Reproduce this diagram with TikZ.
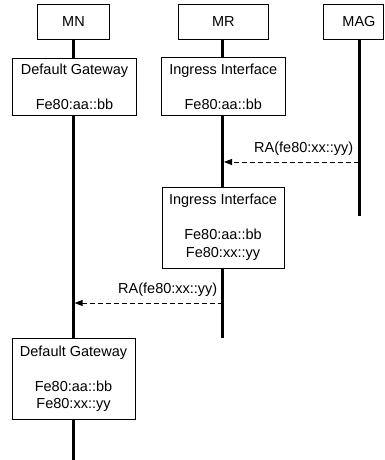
\documentclass[tikz,border=0pt]{standalone}
\usepackage{fontspec}
\setmainfont{Liberation Sans}
\usetikzlibrary{arrows.meta}
\begin{document}
\begin{tikzpicture}[x=1pt,y=1pt,
  box/.style={draw=black, line width=0.8pt, fill=white, inner sep=0pt, align=center,
    font=\fontsize{14.5}{17.5}\selectfont},
  lifeline/.style={line width=2.6pt},
  msg/.style={line width=0.8pt, dash pattern=on 5pt off 3pt, -{Triangle[length=8pt,width=6pt]}},
  lbl/.style={inner sep=0pt, font=\fontsize{14.5}{17.5}\selectfont}]
\useasboundingbox (0,0) rectangle (384,-460);
% header boxes
\node[box, minimum width=71.6pt, minimum height=35.3pt] (MN) at (73.5,-21.7) {MN};
\node[box, minimum width=90pt, minimum height=35.3pt] (MR) at (223.3,-21.7) {MR};
\node[box, minimum width=60pt, minimum height=35.3pt] (MAG) at (353.3,-21.7) {\hspace*{11.4pt}MAG};
% state boxes
\node[box, minimum width=124.4pt, minimum height=57pt] (DG1) at (74.5,-86.5) {Default Gateway\\[17.5pt]Fe80:aa::bb};
\node[box, minimum width=123.3pt, minimum height=58pt] (IN1) at (223.3,-86.5) {Ingress Interface\\[17.5pt]Fe80:aa::bb};
\node[box, minimum width=122pt, minimum height=81pt] (IN2) at (223,-227.5) {Ingress Interface\\[17.5pt]Fe80:aa::bb\\Fe80:xx::yy};
\node[box, minimum width=123pt, minimum height=81pt] (DG2) at (73.5,-378.5) {Default Gateway\\[17.5pt]Fe80:aa::bb\\Fe80:xx::yy};
% lifeline end points
\coordinate (MNend) at (73.3,-460);
\coordinate (MRend) at (222.7,-338);
\coordinate (MAGtop) at (359.3,-39.3);
\coordinate (MAGend) at (359.3,-216);
\coordinate (A1s) at (359.3,-162);
\coordinate (A1e) at (224,-162);
\coordinate (A2s) at (222.7,-303);
\coordinate (A2e) at (74.6,-303);
% lifelines
\draw[lifeline] (MN.south -| MNend) -- (DG1.north -| MNend);
\draw[lifeline] (DG1.south -| MNend) -- (DG2.north -| MNend);
\draw[lifeline] (DG2.south -| MNend) -- (MNend);
\draw[lifeline] (MR.south -| MRend) -- (IN1.north -| MRend);
\draw[lifeline] (IN1.south -| MRend) -- (IN2.north -| MRend);
\draw[lifeline] (IN2.south -| MRend) -- (MRend);
\draw[lifeline] (MAGtop) -- (MAGend);
% messages
\draw[msg] (A1s) -- (A1e);
\node[lbl, anchor=south east] (L1) at (353.5,-156) {RA(fe80:xx::yy)};
\draw[msg] (A2s) -- (A2e);
\node[lbl, anchor=south east] (L2) at (217.5,-297) {RA(fe80:xx::yy)};
\end{tikzpicture}
\end{document}
